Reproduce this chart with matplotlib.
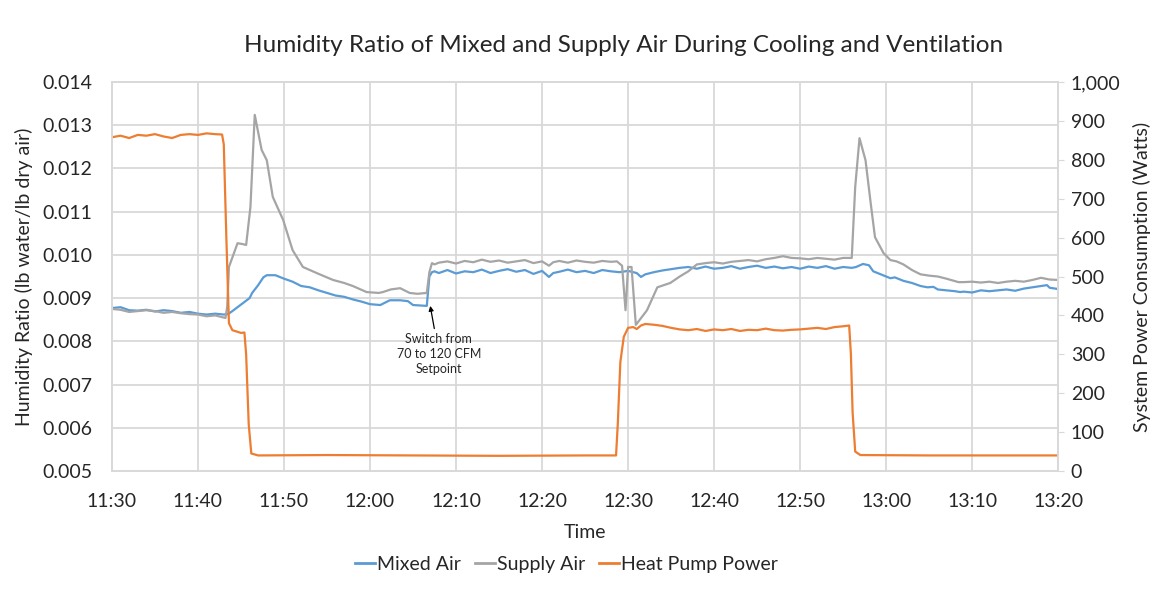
import matplotlib
matplotlib.use("Agg")
from matplotlib import pyplot as plt
from matplotlib.lines import Line2D

plt.rcParams['font.family'] = ['Lato', 'DejaVu Sans']

# minutes after 11:30
mixed_t = [0, 1, 2, 3, 4, 5, 6, 7, 8, 9, 10, 11, 12, 13, 13.5, 14, 15, 16, 16.3, 17, 17.6, 18, 19, 20, 21, 22,
           23, 24, 25, 26, 27, 28, 29, 30, 31.2, 32.3, 33.5, 34.4, 35, 36.6, 36.9, 37.2, 37.5, 38, 39, 40, 41,
           42, 43, 44, 45, 46, 47, 48, 49, 50, 50.8, 51.3, 52, 53, 54, 55, 56, 57, 58, 59, 60, 61, 61.5, 62,
           63, 64, 65, 66, 67, 68, 69, 70, 71, 72, 73, 74, 75, 76, 77, 78, 79, 80, 81, 82, 83, 84, 85, 86,
           86.5, 87.3, 88, 88.5, 89, 90, 90.5, 91, 92, 93, 94, 94.8, 95.5, 96, 97, 98, 98.6, 99, 100, 101, 102,
           103, 104, 105, 106, 107, 108, 108.7, 109, 110]
mixed_v = [0.00877, 0.00879, 0.00872, 0.00871, 0.00873, 0.00869, 0.00872, 0.00870, 0.00866, 0.00868, 0.00864,
           0.00862, 0.00864, 0.00862, 0.00863, 0.00870, 0.00885, 0.00900, 0.00912, 0.00930, 0.00948, 0.00953,
           0.00953, 0.00945, 0.00938, 0.00928, 0.00925, 0.00918, 0.00912, 0.00906, 0.00903, 0.00897, 0.00892,
           0.00886, 0.00884, 0.00895, 0.00895, 0.00893, 0.00884, 0.00882, 0.00950, 0.00960, 0.00962, 0.00958,
           0.00965, 0.00957, 0.00962, 0.00960, 0.00966, 0.00958, 0.00963, 0.00967, 0.00961, 0.00965, 0.00956,
           0.00963, 0.00949, 0.00958, 0.00961, 0.00966, 0.00960, 0.00963, 0.00958, 0.00965, 0.00962, 0.00960,
           0.00963, 0.00958, 0.00949, 0.00955, 0.00960, 0.00964, 0.00967, 0.00970, 0.00972, 0.00968, 0.00973,
           0.00968, 0.00970, 0.00974, 0.00968, 0.00972, 0.00975, 0.00970, 0.00973, 0.00969, 0.00972, 0.00968,
           0.00973, 0.00970, 0.00974, 0.00968, 0.00972, 0.00970, 0.00972, 0.00979, 0.00976, 0.00962, 0.00958,
           0.00950, 0.00946, 0.00948, 0.00940, 0.00935, 0.00928, 0.00925, 0.00926, 0.00920, 0.00918, 0.00916,
           0.00914, 0.00915, 0.00913, 0.00918, 0.00916, 0.00918, 0.00920, 0.00917, 0.00922, 0.00925, 0.00928,
           0.00930, 0.00924, 0.00921]

supply_t = [0, 1, 2, 3, 4, 5, 6, 7, 8, 9, 10, 11, 12, 12.8, 13.2, 13.4, 13.6, 14.6, 15.2, 15.6, 16.1, 16.6,
            17.4, 18.0, 18.7, 19.9, 21.0, 22.2, 23.8, 25.7, 27, 28, 29.6, 31, 31.5, 32.4, 33.5, 34.6, 35.5, 36.6,
            36.9, 37.2, 37.5, 38, 39, 40, 41, 42, 43, 44, 45, 46, 47, 48, 49, 50, 50.8, 51.3, 52, 53, 54, 55,
            56, 57, 58, 58.7, 59.3, 59.7, 60.0, 60.4, 60.9, 62.2, 63.4, 64.9, 66, 67, 68, 69, 70, 71, 72, 73,
            74, 75, 76, 77, 78, 79, 80, 81, 82, 83, 84, 85, 86, 86.4, 86.9, 87.6, 88.2, 88.7, 89.7, 90.5, 91.2,
            92, 93, 94, 95, 96, 97, 98.4, 99, 100, 101, 102, 103, 104, 105, 106, 107, 108, 109, 110]
supply_v = [0.00875, 0.00873, 0.00868, 0.00870, 0.00872, 0.00870, 0.00866, 0.00868, 0.00865, 0.00863, 0.00862,
            0.00858, 0.00860, 0.00856, 0.00854, 0.00880, 0.00972, 0.01027, 0.01025, 0.01023, 0.01111, 0.01324,
            0.01243, 0.01219, 0.01134, 0.01081, 0.01011, 0.00972, 0.00958, 0.00942, 0.00935, 0.00928, 0.00914,
            0.00912, 0.00914, 0.00920, 0.00923, 0.00912, 0.00910, 0.00912, 0.00960, 0.00981, 0.00978, 0.00982,
            0.00985, 0.00980, 0.00986, 0.00983, 0.00989, 0.00984, 0.00987, 0.00982, 0.00985, 0.00988, 0.00981,
            0.00985, 0.00975, 0.00983, 0.00986, 0.00982, 0.00987, 0.00984, 0.00982, 0.00986, 0.00984, 0.00985,
            0.00975, 0.00872, 0.00972, 0.00972, 0.00838, 0.00872, 0.00925, 0.00935, 0.00950, 0.00962, 0.00978,
            0.00981, 0.00983, 0.00980, 0.00984, 0.00986, 0.00988, 0.00985, 0.00990, 0.00993, 0.00997, 0.00993,
            0.00992, 0.00990, 0.00993, 0.00991, 0.00989, 0.00993, 0.00993, 0.01157, 0.01270, 0.01219, 0.01120,
            0.01041, 0.01004, 0.00988, 0.00985, 0.00978, 0.00965, 0.00955, 0.00952, 0.00950, 0.00945, 0.00937,
            0.00937, 0.00938, 0.00936, 0.00938, 0.00935, 0.00938, 0.00940, 0.00938, 0.00942, 0.00947, 0.00943,
            0.00942]

power_t = [0, 1, 2, 3, 4, 5, 6, 7, 8, 9, 10, 11, 12, 12.8, 13.0, 13.3, 13.6, 14.0, 15.0, 15.4, 15.6, 15.9,
           16.2, 17, 25, 35, 45, 55, 58.6, 58.8, 59.1, 59.5, 60.0, 60.6, 61.0, 61.5, 62, 63, 64, 65, 66, 67, 68,
           69, 70, 71, 72, 73, 74, 75, 76, 77, 78, 79, 80, 81, 82, 83, 84, 85, 85.7, 85.9, 86.1, 86.4, 87, 95,
           105, 110]
power_v = [858, 862, 856, 864, 862, 866, 860, 856, 864, 866, 864, 868, 866, 865, 840, 600, 380, 362, 355, 356,
           300, 120, 45, 40, 41, 40, 39, 40, 40, 120, 280, 345, 368, 370, 365, 374, 378, 376, 373, 368, 364,
           362, 365, 360, 364, 362, 365, 360, 363, 362, 366, 362, 361, 363, 364, 366, 368, 365, 370, 372, 374,
           300, 150, 50, 41, 40, 40, 40]

x_ticks = [0, 10, 20, 30, 40, 50, 60, 70, 80, 90, 100, 110]
x_labels = ["11:30", "11:40", "11:50", "12:00", "12:10", "12:20", "12:30", "12:40", "12:50", "13:00",
            "13:10", "13:20"]

blue = "#5B9BD5"
gray = "#A5A5A5"
orange = "#ED7D31"
grid_c = "#D9D9D9"
txt = "#262626"

fig = plt.figure(figsize=(11.54, 5.90), dpi=100)
ax = fig.add_axes([0.097, 0.2017, 0.82, 0.6593])
ax2 = ax.twinx()

ax.plot(mixed_t, mixed_v, color=blue, lw=1.6)
ax.plot(supply_t, supply_v, color=gray, lw=1.6)
ax2.plot(power_t, power_v, color=orange, lw=1.6)

ax.set_xlim(0, 110)
ax.set_ylim(0.005, 0.014)
ax.set_yticks([0.005 + 0.001 * i for i in range(10)])
ax.set_yticklabels(["%.3f" % (0.005 + 0.001 * i) for i in range(10)])
ax2.set_ylim(0, 1000)
ax2.set_yticks(range(0, 1001, 100))
ax2.set_yticklabels(["{:,}".format(v) for v in range(0, 1001, 100)])
ax.set_xticks(x_ticks)
ax.set_xticklabels(x_labels)

ax.grid(True, color=grid_c, lw=1.3)
ax.set_axisbelow(True)
for a in (ax, ax2):
    for s in a.spines.values():
        s.set_color(grid_c)
        s.set_linewidth(1.3)
ax.tick_params(axis='y', length=0, labelsize=14, labelcolor=txt, pad=14)
ax.tick_params(axis='x', length=0, labelsize=14, labelcolor=txt, pad=16)
ax2.tick_params(axis='y', length=4, color=grid_c, labelsize=14, labelcolor=txt, pad=5)

ax.set_xlabel("Time", fontsize=14, color=txt, labelpad=10)
ax.set_ylabel("Humidity Ratio (lb water/lb dry air)", fontsize=14, color=txt, labelpad=7)
ax2.set_ylabel("System Power Consumption (Watts)", fontsize=14, color=txt, labelpad=9)
fig.suptitle("Humidity Ratio of Mixed and Supply Air During Cooling and Ventilation",
             x=0.54, y=0.94, fontsize=17.5, color=txt)

ax.annotate("Switch from\n70 to 120 CFM\nSetpoint", xy=(37.0, 0.00882), xytext=(38.0, 0.0082),
            ha='center', va='top', fontsize=9, color=txt, linespacing=1.3,
            arrowprops=dict(arrowstyle='-|>', color='black', lw=0.9, shrinkA=1, shrinkB=0,
                            mutation_scale=7))

handles = [Line2D([], [], color=blue, lw=2), Line2D([], [], color=gray, lw=2),
           Line2D([], [], color=orange, lw=2)]
fig.legend(handles, ["Mixed Air", "Supply Air", "Heat Pump Power"], loc='center',
           bbox_to_anchor=(0.491, 0.043), ncol=3, frameon=False, fontsize=14,
           handlelength=1.05, handletextpad=0.1, columnspacing=0.7, labelcolor=txt)

fig.savefig("out.png", dpi=100)
